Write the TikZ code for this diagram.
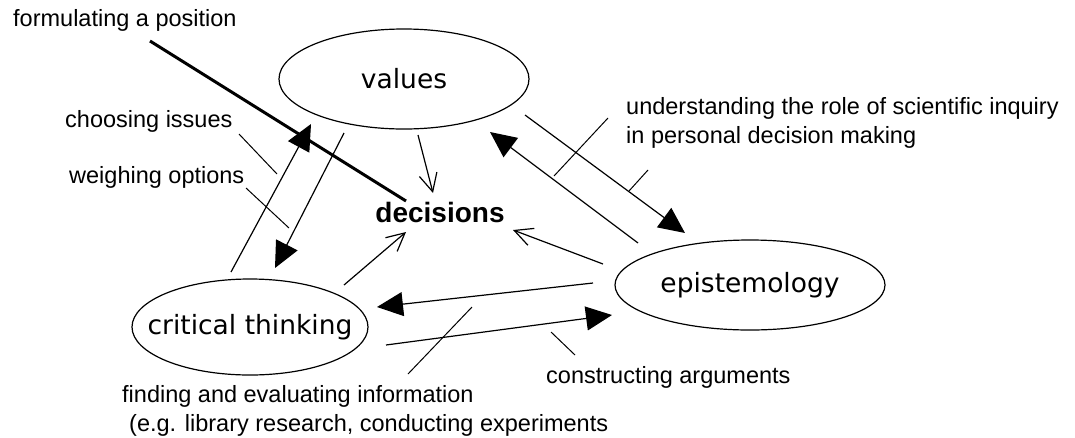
\documentclass[tikz,border=0pt]{standalone}
\usepackage{fontspec}
\setmainfont{Liberation Sans}
\newfontfamily\bubblefont{DejaVu Sans}
\usetikzlibrary{arrows.meta,shapes.geometric}
\tikzset{
  bubble/.style={draw, ellipse, line width=1.2pt, inner sep=0pt},
  lbl/.style={font=\fontsize{23.5}{29}\selectfont, inner sep=0pt, anchor=base west},
  lbltwo/.style={font=\fontsize{23.5}{29}\selectfont, inner sep=0pt, align=left, anchor=north west},
  bigarrow/.style={line width=1.2pt, -{Triangle[length=26pt,width=24pt]}},
  openarrow/.style={line width=1.2pt, -{Straight Barb[length=18pt,width=18pt,line width=1.2pt]}},
  tick/.style={line width=1pt},
  boldline/.style={line width=3pt}
}
\newcommand{\bubbletxt}[1]{\makebox[0pt][c]{\bubblefont\fontsize{26.5}{26.5}\selectfont #1}}
\begin{document}
\begin{tikzpicture}[x=1pt,y=-1pt]
\useasboundingbox (0,0) rectangle (1075,437);
% ellipses
\node[bubble, minimum width=250pt, minimum height=100pt] (values) at (404,79) {\bubbletxt{values}};
\node[bubble, minimum width=236pt, minimum height=96pt] (crit) at (250,327) {\bubbletxt{critical thinking}};
\node[bubble, minimum width=270pt, minimum height=90pt] (epis) at (750,285) {\bubbletxt{epistemology}};
\node[inner sep=0pt, font=\fontsize{28}{28}\selectfont\bfseries] (dec) at (440,212) {decisions};
% labels
\node[lbl] (form) at (13,26) {formulating a position};
\node[lbl] (choose) at (65,127) {choosing issues};
\node[lbl] (weigh) at (69,183) {weighing options};
\node[lbl] (constr) at (546,383) {constructing arguments};
\node[lbltwo] (under) at (626,97) {understanding the role of scientific inquiry\\in personal decision making};
\node[lbltwo] (find) at (122,385) {finding and evaluating information\\\hspace*{7pt}(e.g. library research, conducting experiments};
% arrow end points
\coordinate (a1s) at (418,135); \coordinate (a1e) at (433,193);
\coordinate (a2s) at (344,285); \coordinate (a2e) at (406,232);
\coordinate (a3s) at (603,264); \coordinate (a3e) at (513,230);
\coordinate (a4s) at (231,272); \coordinate (a4e) at (311,124);
\coordinate (a5s) at (344,133); \coordinate (a5e) at (275,268);
\coordinate (a6s) at (638,243); \coordinate (a6e) at (490,132);
\coordinate (a7s) at (525,115); \coordinate (a7e) at (685,233);
\coordinate (a8s) at (593,283); \coordinate (a8e) at (377,307);
\coordinate (a9s) at (386,345); \coordinate (a9e) at (612,315);
% open arrows to decisions
\draw[openarrow] (a1s) -- (a1e);
\draw[openarrow] (a2s) -- (a2e);
\draw[openarrow] (a3s) -- (a3e);
% filled arrows
\draw[bigarrow] (a4s) -- (a4e);
\draw[bigarrow] (a5s) -- (a5e);
\draw[bigarrow] (a6s) -- (a6e);
\draw[bigarrow] (a7s) -- (a7e);
\draw[bigarrow] (a8s) -- (a8e);
\draw[bigarrow] (a9s) -- (a9e);
% annotation lines
\coordinate (l1s) at (239,134); \coordinate (l1e) at (277,174);
\coordinate (l2s) at (246,188); \coordinate (l2e) at (289,228);
\coordinate (l3s) at (150,41);  \coordinate (l3e) at (406,201);
\coordinate (l4s) at (608,118); \coordinate (l4e) at (554,176);
\coordinate (l5s) at (648,170); \coordinate (l5e) at (629,191);
\coordinate (l6s) at (551,332); \coordinate (l6e) at (575,355);
\coordinate (l7s) at (472,307); \coordinate (l7e) at (408,374);
\draw[tick] (l1s) -- (l1e);
\draw[tick] (l2s) -- (l2e);
\draw[boldline] (l3s) -- (l3e);
\draw[tick] (l4s) -- (l4e);
\draw[tick] (l5s) -- (l5e);
\draw[tick] (l6s) -- (l6e);
\draw[tick] (l7s) -- (l7e);
\end{tikzpicture}
\end{document}
